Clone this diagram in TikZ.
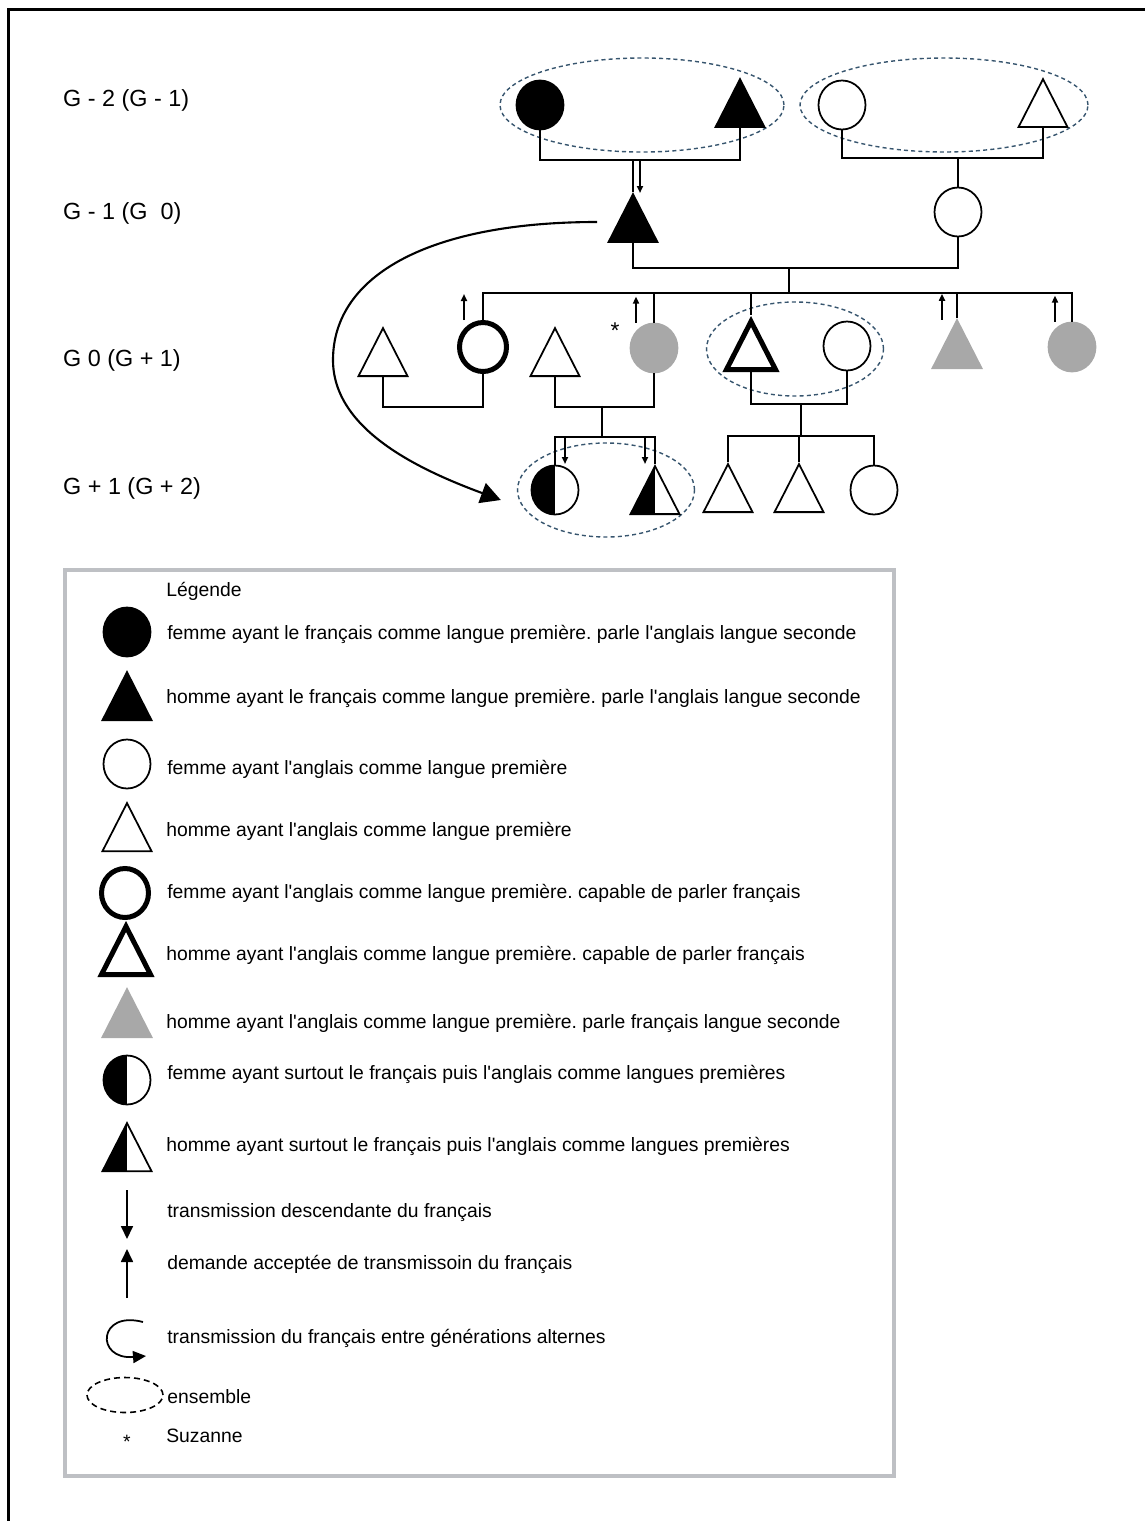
\documentclass[tikz,border=0pt]{standalone}
\usepackage{fontspec}
\setmainfont{Liberation Sans}
\usetikzlibrary{shapes.geometric, arrows.meta, calc}
\definecolor{gris}{RGB}{168,168,168}
\definecolor{pointille}{RGB}{55,85,110}
\definecolor{cadre}{RGB}{190,192,196}
\newdimen\pxu \pxu=0.02cm
\newcommand{\ap}{\textquotesingle}
\frenchspacing

\begin{document}
\begin{tikzpicture}[
        x=\pxu, y=-\pxu,
        femme/.style={ellipse, draw=black, line width=1pt, inner sep=0pt, minimum width=47\pxu, minimum height=49\pxu},
        homme/.style={isosceles triangle, isosceles triangle stretches, shape border rotate=90, draw=black, line width=1pt, inner sep=0pt, minimum width=49\pxu, minimum height=48\pxu, anchor=south},
        francais/.style={fill=black},
        bilingue/.style={line width=5\pxu},
        seconde/.style={fill=gris, draw=gris},
        moitie/.style={path picture={\fill[black] (path picture bounding box.south west) rectangle (path picture bounding box.north);}},
        ensemble/.style={ellipse, draw=pointille, dash pattern=on 2.3pt off 1.8pt, line width=0.8pt, inner sep=0pt},
        lien/.style={draw=black, line width=1pt},
        desc/.style={-{Triangle[length=0.14cm, width=0.12cm]}, line width=1pt},
        legfleche/.style={-{Triangle[length=0.26cm, width=0.24cm]}, line width=1pt},
        alterne/.style={-{Triangle[length=0.4cm, width=0.42cm]}, line width=1.2pt},
        gen/.style={anchor=west, font=\fontsize{13.3}{16}\selectfont},
        leg/.style={anchor=west, inner sep=0pt, font=\fontsize{11}{13}\selectfont}
    ]
    \useasboundingbox (0,0) rectangle (1145,1521);
    \draw[line width=3\pxu] (8,1521) -- (8,9) -- (1145,9);

    % generations
    \node[gen] (g1) at (57,100) {G - 2 (G - 1)};
    \node[gen] (g2) at (57,213) {G - 1 (G\ \ 0)};
    \node[gen] (g3) at (57,360) {G 0 (G + 1)};
    \node[gen] (g4) at (57,488) {G + 1 (G + 2)};

    % ensembles
    \node[ensemble, minimum width=284\pxu, minimum height=94\pxu] (e1) at (642,105) {};
    \node[ensemble, minimum width=288\pxu, minimum height=94\pxu] (e2) at (944,105) {};
    \node[ensemble, minimum width=177\pxu, minimum height=94\pxu] (e3) at (795,349) {};
    \node[ensemble, minimum width=177\pxu, minimum height=94\pxu] (e4) at (606,490) {};

    % G-2
    \node[femme, francais] (gm1) at (540,105) {};
    \node[homme, francais] (gf1) at (740,128) {};
    \node[femme] (gm2) at (842,105) {};
    \node[homme] (gf2) at (1043,128) {};
    % G-1
    \node[homme, francais] (pere) at (633,243) {};
    \node[femme] (mere) at (958,212) {};
    % G0
    \node[homme] (ha) at (383,377) {};
    \node[femme, bilingue] (fille1) at (483,347) {};
    \node[homme] (hb) at (555,377) {};
    \node[femme, seconde] (suzanne) at (654,348) {};
    \node[font=\fontsize{13}{15}\selectfont] (etoile) at (615,331) {*};
    \node[homme, bilingue] (fils1) at (751,372) {};
    \node[femme] (bru) at (847,346) {};
    \node[homme, seconde] (fils2) at (957,369) {};
    \node[femme, seconde] (fille2) at (1072,347) {};
    % G+1
    \node[femme, moitie] (pf) at (555,490) {};
    \node[homme, moitie] (pg) at (655,515) {};
    \node[homme] (p1) at (728,513) {};
    \node[homme] (p2) at (799,513) {};
    \node[femme] (p3) at (874,490) {};

    \coordinate (u1) at (640,160);
    \coordinate (u2) at (958,158);
    \coordinate (u3) at (789,268);
    \coordinate (u4) at (789,293);
    \coordinate (u5) at (602,407);
    \coordinate (u6) at (602,437);
    \coordinate (u7) at (801,404);
    \coordinate (u8) at (801,436);
    \coordinate (a0) at (597,222);

    \draw[lien] (gm1.south) |- (u1) -| (gf1.south);
    \draw[lien] (gm2.south) |- (u2) -| (gf2.south);
    \draw[lien] (pere.apex) -- (pere.apex |- u1);
    \draw[desc] (u1) -- ++(0,33);
    \draw[lien] (mere.north) -- (u2);
    \draw[lien] (pere.south) |- (u3) -| (mere.south);
    \draw[lien] (u3) -- (u4);
    \draw[lien] (fille1.north) |- (fille2.north |- u4) -- (fille2.north);
    \draw[lien] (suzanne.north) -- (suzanne.north |- u4);
    \draw[lien] (fils1.apex) -- (fils1.apex |- u4);
    \draw[lien] (fils2.apex) -- (fils2.apex |- u4);
    \draw[desc] ($(fille1.north)+(-19,0)$) -- ++(0,-26);
    \draw[desc] ($(suzanne.north)+(-18,0)$) -- ++(0,-26);
    \draw[desc] ($(fils2.apex)+(-15,2)$) -- ++(0,-26);
    \draw[desc] ($(fille2.north)+(-17,0)$) -- ++(0,-26);

    \draw[lien] (ha.south) -- ++(0,30) -| (fille1.south);
    \draw[lien] (hb.south) |- (u5) -| (suzanne.south);
    \draw[lien] (u5) -- (u6);
    \draw[lien] (fils1.south) |- (u7) -| (bru.south);
    \draw[lien] (u7) -- (u8);

    \draw[lien] (pf.north) |- (u6) -| (pg.apex);
    \draw[desc] ($(pf.north |- u6)+(10,0)$) -- ++(0,27);
    \draw[desc] ($(pg.apex |- u6)+(-10,0)$) -- ++(0,27);
    \draw[lien] (p1.apex) |- (u8) -| (p3.north);
    \draw[lien] (p2.apex) -- (p2.apex |- u8);

    \draw[alterne] (a0) .. controls (430,222) and (333,275) .. (333,360) .. controls (333,430) and (420,470) .. ($(e4.west)+(-16,10)$);

    % legende
    \draw[draw=cadre, line width=4\pxu] (65,570) rectangle (894,1476);
    \node[leg] (titre) at (166,591) {Légende};
    \node[femme, francais] (l1) at (127,632) {};
    \node[leg] (t1) at (167,634) {femme ayant le français comme langue première. parle l\ap anglais langue seconde};
    \node[homme, francais] (l2) at (127,721) {};
    \node[leg] (t2) at (166,698) {homme ayant le français comme langue première. parle l\ap anglais langue seconde};
    \node[femme] (l3) at (127,764) {};
    \node[leg] (t3) at (167,769) {femme ayant l\ap anglais comme langue première};
    \node[homme] (l4) at (127,852) {};
    \node[leg] (t4) at (166,831) {homme ayant l\ap anglais comme langue première};
    \node[femme, bilingue] (l5) at (125,893) {};
    \node[leg] (t5) at (167,893) {femme ayant l\ap anglais comme langue première. capable de parler français};
    \node[homme, bilingue] (l6) at (126,977) {};
    \node[leg] (t6) at (166,955) {homme ayant l\ap anglais comme langue première. capable de parler français};
    \node[homme, seconde] (l7) at (127,1038) {};
    \node[leg] (t7) at (166,1023) {homme ayant l\ap anglais comme langue première. parle français langue seconde};
    \node[femme, moitie] (l8) at (127,1080) {};
    \node[leg] (t8) at (167,1074) {femme ayant surtout le français puis l\ap anglais comme langues premières};
    \node[homme, moitie] (l9) at (127,1172) {};
    \node[leg] (t9) at (166,1146) {homme ayant surtout le français puis l\ap anglais comme langues premières};
    \draw[legfleche] (127,1190) -- (127,1239);
    \node[leg] (t10) at (167,1213) {transmission descendante du français};
    \draw[legfleche] (127,1298) -- (127,1249);
    \node[leg] (t11) at (167,1264) {demande acceptée de transmissoin du français};
    \draw[legfleche] (143,1322) .. controls (98,1310) and (95,1360) .. (146,1356);
    \node[leg] (t12) at (167,1338) {transmission du français entre générations alternes};
    \node[ellipse, draw=black, dash pattern=on 3.4pt off 2.3pt, line width=0.9pt, minimum width=76\pxu, minimum height=35\pxu] (l13) at (125,1395) {};
    \node[leg] (t13) at (167,1397) {ensemble};
    \node[font=\fontsize{11}{13}\selectfont] (l14) at (127,1442) {*};
    \node[leg] (t14) at (166,1436) {Suzanne};
\end{tikzpicture}
\end{document}
